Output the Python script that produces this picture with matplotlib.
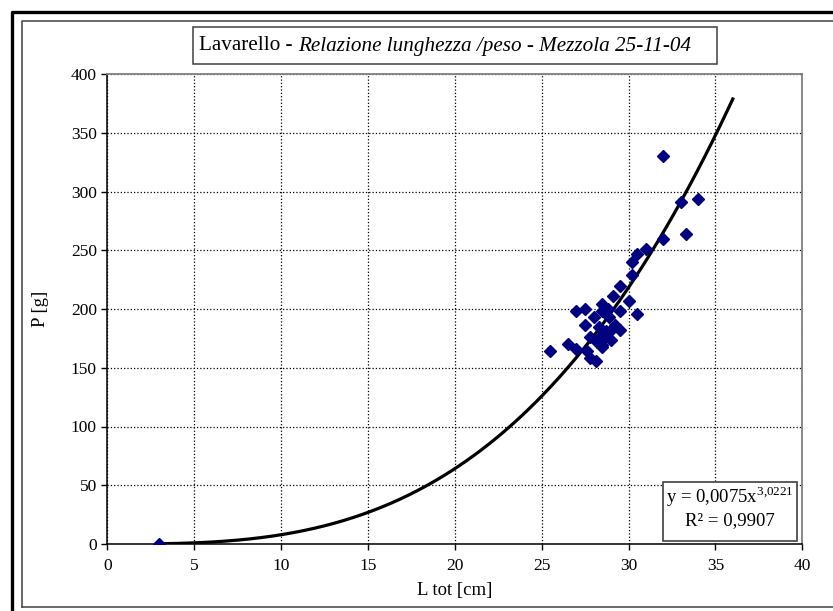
import numpy as np
import matplotlib
matplotlib.use("Agg")
import matplotlib.pyplot as plt
from matplotlib.patches import Rectangle
from matplotlib.lines import Line2D

plt.rcParams['font.family'] = ['Liberation Serif', 'DejaVu Serif']
plt.rcParams['mathtext.fontset'] = 'custom'
plt.rcParams['mathtext.rm'] = 'Liberation Serif'

# lunghezza totale [cm] e peso [g] dei lavarelli
lung = [3.0, 25.5, 26.5, 27.0, 27.0, 27.5, 27.5, 27.6, 27.8, 27.8,
        28.0, 28.1, 28.3, 28.3, 28.5, 28.5, 28.5, 28.5, 28.6, 28.6,
        28.7, 28.9, 29.0, 29.0, 29.1, 29.5, 29.5, 29.5, 30.0, 30.2,
        30.2, 30.5, 30.5, 31.0, 32.0, 32.0, 33.0, 33.3, 34.0,
        28.8, 29.2, 28.2]
peso = [0, 164, 170, 166, 198, 200, 186, 164, 158, 176,
        193, 156, 185, 175, 204, 198, 169, 168, 175, 179,
        181, 193, 174, 182, 211, 220, 198, 182, 207, 229,
        240, 247, 196, 251, 260, 330, 291, 264, 294,
        200, 186, 172]

# linea di tendenza potenza (da Excel)
coef_a = 0.0075
coef_b = 3.0221
r2 = 0.9907
x_fit_min, x_fit_max = 3, 36

fig = plt.figure(figsize=(8.33, 6.11), dpi=100)
W, H = 833, 611

def fx(px):
    return px / W

def fy(py):
    return 1 - py / H

# cornice esterna e interna
fig.add_artist(Line2D([fx(12), fx(12), fx(840)], [fy(620), fy(11.5), fy(11.5)],
                      color='black', lw=2.4, transform=fig.transFigure))
fig.add_artist(Line2D([fx(22), fx(22), fx(840)], [fy(607), fy(21), fy(21)],
                      color='#404040', lw=1.1, transform=fig.transFigure))
fig.add_artist(Line2D([fx(22), fx(840)], [fy(607), fy(607)],
                      color='#404040', lw=1.1, transform=fig.transFigure))

ax = fig.add_axes([fx(107.3), fy(544), (802.3 - 107.3) / W, (544 - 74) / H])

xs = np.linspace(x_fit_min, x_fit_max, 300)
ax.plot(xs, coef_a * xs ** coef_b, color='black', lw=2.3, zorder=3)
ax.plot(lung, peso, ls='none', marker='D', ms=6.2, color='#000080',
        markeredgecolor='#000080', zorder=4)

ax.set_xlim(0, 40)
ax.set_ylim(0, 400)
ax.set_xticks(range(0, 41, 5))
ax.set_yticks(range(0, 401, 50))
ax.grid(True, color='black', ls=':', lw=0.9)
ax.set_axisbelow(True)
ax.tick_params(direction='out', length=4, width=1, labelsize=12.5, colors='black')
ax.tick_params(axis='x', pad=6)
for s in ['top', 'right']:
    ax.spines[s].set_color('#808080')
    ax.spines[s].set_linewidth(1.3)
for s in ['left', 'bottom']:
    ax.spines[s].set_linewidth(1.1)

ax.set_xlabel('L tot [cm]', fontsize=13.5, labelpad=6)
ax.set_ylabel('P [g]', fontsize=13.5, labelpad=16)

# riquadro equazione
ax.add_patch(Rectangle((32.0, 2.6), 7.7, 50.2, facecolor='white',
                       edgecolor='#404040', lw=1.2, zorder=5))
ax.text(35.85, 40, r'y = 0,0075x$^{3{,}0221}$', ha='center', va='center',
        fontsize=13.5, zorder=6)
ax.text(35.85, 20, 'R² = 0,9907', ha='center', va='center', fontsize=13.5, zorder=6)

# titolo
fig.add_artist(Rectangle((fx(193), fy(64)), (717 - 193) / W, (64 - 27) / H,
                         facecolor='white', edgecolor='#404040', lw=1.1,
                         transform=fig.transFigure, zorder=-1))
t1 = fig.text(fx(199), fy(46), 'Lavarello - ', fontsize=15.2, va='center', ha='left')
ax.annotate('Relazione lunghezza /peso - Mezzola 25-11-04', xy=(1, 0.5),
            xycoords=t1, va='center', ha='left', fontsize=15.2,
            style='italic', annotation_clip=False)

fig.savefig('out.png', dpi=100)
